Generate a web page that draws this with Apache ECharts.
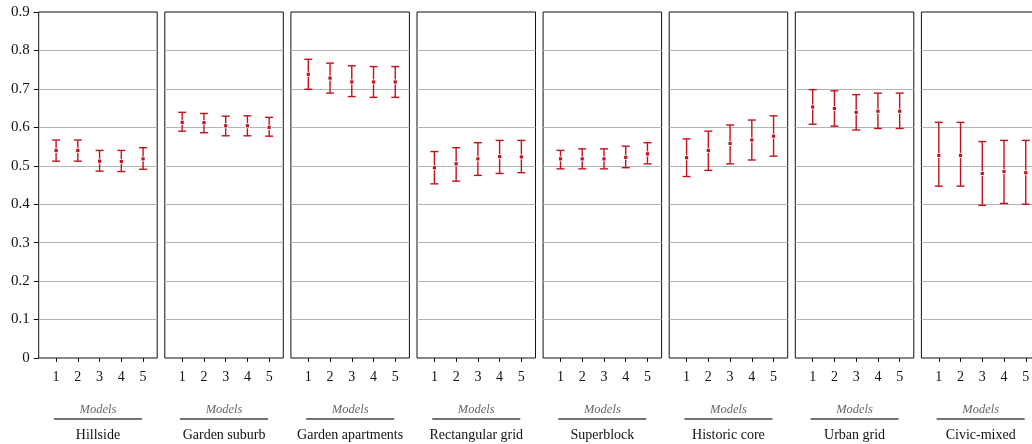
<!DOCTYPE html>
<html>
<head>
<meta charset="utf-8">
<script src="https://cdn.jsdelivr.net/npm/echarts@6/dist/echarts.min.js"></script>
<style>
html,body{margin:0;padding:0;background:#fff;}
#chart{width:1032px;height:444px;}
</style>
</head>
<body>
<div id="chart"></div>
<script>
const panelNames = ['Hillside', 'Garden suburb', 'Garden apartments', 'Rectangular grid', 'Superblock', 'Historic core', 'Urban grid', 'Civic-mixed'];
const models = [1, 2, 3, 4, 5];
const yTicks = [0, 0.1, 0.2, 0.3, 0.4, 0.5, 0.6, 0.7, 0.8, 0.9];

const meanValues = [
  [0.540, 0.540, 0.512, 0.511, 0.518],
  [0.613, 0.612, 0.604, 0.604, 0.600],
  [0.738, 0.728, 0.718, 0.718, 0.718],
  [0.495, 0.505, 0.518, 0.524, 0.523],
  [0.518, 0.518, 0.518, 0.522, 0.531],
  [0.521, 0.540, 0.558, 0.567, 0.577],
  [0.653, 0.649, 0.639, 0.642, 0.642],
  [0.527, 0.527, 0.480, 0.485, 0.482]
];
const lowerValues = [
  [0.512, 0.512, 0.486, 0.485, 0.491],
  [0.590, 0.586, 0.578, 0.578, 0.577],
  [0.699, 0.689, 0.680, 0.678, 0.678],
  [0.453, 0.460, 0.475, 0.480, 0.482],
  [0.492, 0.492, 0.492, 0.495, 0.505],
  [0.472, 0.488, 0.505, 0.515, 0.525],
  [0.608, 0.603, 0.593, 0.597, 0.597],
  [0.447, 0.447, 0.397, 0.402, 0.400]
];
const upperValues = [
  [0.567, 0.567, 0.540, 0.540, 0.547],
  [0.639, 0.636, 0.629, 0.630, 0.626],
  [0.777, 0.767, 0.760, 0.758, 0.758],
  [0.537, 0.547, 0.560, 0.566, 0.566],
  [0.540, 0.544, 0.544, 0.551, 0.560],
  [0.570, 0.590, 0.606, 0.619, 0.630],
  [0.698, 0.695, 0.685, 0.689, 0.689],
  [0.613, 0.613, 0.563, 0.566, 0.566]
];

const RED = '#c4121b';
const FONT = 'Liberation Serif';

const chart = echarts.init(document.getElementById('chart'), null, {renderer: 'canvas'});

const grids = [], xAxes = [], yAxes = [], series = [];
panelNames.forEach((name, i) => {
  grids.push({
    left: 38.7 + i * 126.1, width: 118.5, top: 12, height: 346,
    outerBoundsMode: 'none', containLabel: false,
    show: true, borderColor: '#111', borderWidth: 1, backgroundColor: 'transparent'
  });
  xAxes.push({
    type: 'value', gridIndex: i, min: 0.2, max: 5.65,
    axisLine: {show: false},
    splitLine: {show: false},
    axisTick: {show: true, inside: false, length: 4, lineStyle: {color: '#111'}, customValues: models},
    axisLabel: {show: true, margin: 12, customValues: models, fontFamily: FONT, fontSize: 14, color: '#111'},
    name: '{m|Models}\n{l| }\n{c|' + name + '}',
    nameLocation: 'middle', nameGap: 46,
    nameTextStyle: {
      rich: {
        m: {fontFamily: FONT, fontStyle: 'italic', fontSize: 12.5, color: '#666', lineHeight: 12},
        l: {width: 88, height: 1.4, backgroundColor: '#444', lineHeight: 6, fontSize: 1},
        c: {fontFamily: FONT, fontSize: 14, color: '#111', lineHeight: 26}
      }
    }
  });
  yAxes.push({
    type: 'value', gridIndex: i, min: 0, max: 0.9, interval: 0.1,
    axisLine: {show: false},
    axisTick: {show: i === 0, length: 5, lineStyle: {color: '#111'}},
    axisLabel: {show: i === 0, margin: 9, fontFamily: FONT, fontSize: 15, color: '#111',
      formatter: v => String(Math.round(v * 10) / 10)},
    splitLine: {show: true, showMinLine: false, showMaxLine: false, lineStyle: {color: '#b4b4b4', width: 1}}
  });
  series.push({
    type: 'custom', xAxisIndex: i, yAxisIndex: i,
    data: models.map((m, k) => [m, lowerValues[i][k], meanValues[i][k], upperValues[i][k]]),
    renderItem: function (params, api) {
      const x = api.value(0);
      const pLo = api.coord([x, api.value(1)]);
      const pM = api.coord([x, api.value(2)]);
      const pHi = api.coord([x, api.value(3)]);
      const cap = 4;
      const st = {stroke: RED, lineWidth: 1.4};
      return {
        type: 'group',
        children: [
          {type: 'line', shape: {x1: pHi[0], y1: pHi[1], x2: pLo[0], y2: pLo[1]}, style: st},
          {type: 'line', shape: {x1: pHi[0] - cap, y1: pHi[1], x2: pHi[0] + cap, y2: pHi[1]}, style: st},
          {type: 'line', shape: {x1: pLo[0] - cap, y1: pLo[1], x2: pLo[0] + cap, y2: pLo[1]}, style: st},
          {type: 'rect', shape: {x: pM[0] - 2.5, y: pM[1] - 2.5, width: 5, height: 5}, style: {fill: 'rgba(255,255,255,0.9)'}},
          {type: 'rect', shape: {x: pM[0] - 1.6, y: pM[1] - 1.6, width: 3.2, height: 3.2}, style: {fill: RED}}
        ]
      };
    }
  });
});

chart.setOption({
  animation: false,
  backgroundColor: '#fff',
  grid: grids,
  xAxis: xAxes,
  yAxis: yAxes,
  series: series
});
</script>
</body>
</html>
